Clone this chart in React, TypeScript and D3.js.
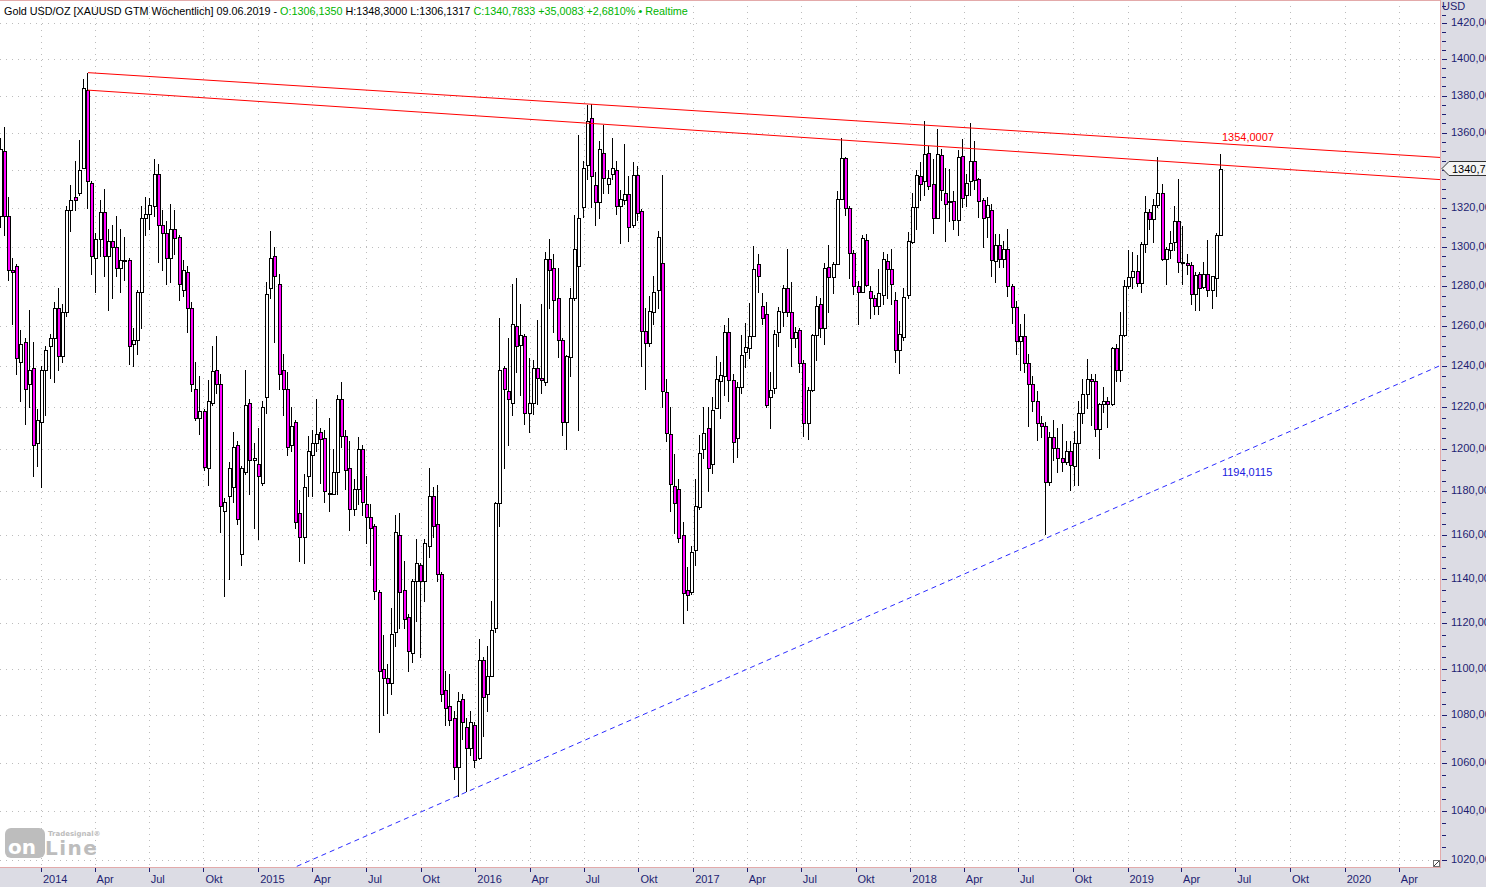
import * as d3 from "d3";

type Bar = [number, number, number, number]; // open, high, low, close

// weekly bars, one per Friday starting 2013-10-25
const bars2013: Bar[] = [
  [1316, 1357, 1310, 1351], [1350, 1363, 1306, 1316], [1316, 1326, 1283, 1288],
  [1288, 1294, 1261, 1287], [1290, 1291, 1236, 1244], [1242, 1258, 1223, 1251],
  [1252, 1254, 1212, 1229], [1231, 1268, 1220, 1238], [1239, 1252, 1187, 1202],
  [1203, 1219, 1192, 1214],
];
const bars2014: Bar[] = [
  [1213, 1240, 1182, 1238], [1238, 1250, 1216, 1248], [1250, 1256, 1234, 1254],
  [1254, 1272, 1232, 1269], [1269, 1279, 1238, 1245], [1245, 1271, 1242, 1267],
  [1267, 1321, 1265, 1319], [1319, 1332, 1308, 1324], [1326, 1345, 1319, 1324],
  [1328, 1356, 1327, 1340], [1341, 1389, 1341, 1384], [1383, 1392.6, 1320, 1334],
  [1333, 1334, 1286, 1295], [1294, 1307, 1277, 1304], [1304, 1324, 1295, 1318],
  [1318, 1330, 1285, 1295], [1295, 1309, 1268, 1303], [1303, 1311, 1274, 1300],
  [1300, 1316, 1285, 1289], [1289, 1309, 1277, 1293], [1293, 1305, 1283, 1292.5],
  [1293, 1294, 1241, 1250], [1251, 1259, 1240, 1253], [1253, 1278, 1246, 1277],
  [1277, 1321, 1259, 1315], [1315, 1326, 1306, 1317], [1317, 1325, 1309, 1321.5],
  [1321, 1346, 1316, 1338], [1338, 1343, 1292, 1311], [1311, 1319, 1288, 1307],
  [1307, 1313, 1281, 1294], [1294, 1322, 1282, 1309], [1309, 1319, 1296, 1304.5],
  [1305, 1306, 1273, 1281], [1278, 1293, 1275, 1288], [1287, 1290, 1257, 1269],
  [1269, 1272, 1228, 1231], [1229, 1242, 1214, 1215], [1215, 1235, 1207, 1218],
  [1218, 1219, 1190, 1191.5], [1191, 1233, 1183, 1223], [1222, 1250, 1221, 1237.5],
  [1238, 1255, 1227, 1231], [1231, 1236, 1161, 1173], [1171, 1177, 1132, 1175],
  [1178, 1194, 1140, 1191], [1182, 1208, 1175, 1201], [1202, 1204, 1165, 1167],
  [1151, 1192, 1146, 1191], [1189, 1238, 1188, 1221], [1222, 1224, 1179, 1195],
  [1195, 1203, 1163, 1195.5],
];
const bars2015: Bar[] = [
  [1193, 1210, 1158, 1187], [1184, 1223, 1183, 1220], [1225, 1282, 1217, 1276],
  [1279, 1308, 1274, 1294], [1295, 1300, 1252, 1285], [1281, 1286, 1229, 1236],
  [1238, 1246, 1216, 1229], [1229, 1237, 1197, 1201], [1202, 1220, 1199, 1211],
  [1213, 1214, 1163, 1166], [1170, 1176, 1148, 1159], [1159, 1188, 1147, 1182],
  [1187, 1206, 1178, 1199], [1197, 1209, 1178, 1203], [1203, 1224, 1199, 1207],
  [1208, 1210, 1184, 1204.5], [1205, 1209, 1175, 1180], [1179, 1215, 1171, 1179.5],
  [1179, 1200, 1179, 1189], [1189, 1226, 1179, 1224], [1224, 1232, 1201, 1206],
  [1206, 1209, 1181, 1190], [1191, 1204, 1162, 1172], [1172, 1186, 1169, 1181],
  [1181, 1205.5, 1174, 1200], [1200, 1202, 1169, 1175], [1174, 1187, 1156, 1168],
  [1168, 1174, 1146, 1163], [1164, 1165, 1131, 1134.5], [1134, 1135, 1073, 1099],
  [1100, 1115, 1080, 1096], [1096, 1102, 1081, 1094], [1094, 1127, 1089, 1115.5],
  [1116, 1169, 1110, 1161], [1160, 1170, 1118, 1134], [1135, 1148, 1118, 1122],
  [1123, 1124, 1099, 1108], [1107, 1140, 1103, 1139], [1139, 1158, 1121, 1147],
  [1146, 1147, 1105, 1139], [1139, 1158, 1130, 1156], [1155, 1191, 1150, 1178],
  [1178, 1182, 1159, 1164], [1165, 1183, 1139, 1142], [1142, 1143, 1086, 1089],
  [1091, 1099, 1076, 1083], [1084, 1098, 1076, 1078], [1079, 1082, 1053, 1058],
  [1058, 1090, 1046, 1086], [1087, 1089, 1070, 1077], [1075, 1079, 1048, 1066],
  [1066, 1082, 1063, 1077],
];
const bars2016: Bar[] = [
  [1076, 1077, 1058, 1061], [1062, 1113, 1061.5, 1104], [1104, 1105, 1071, 1088],
  [1089, 1110, 1082, 1097], [1097, 1130, 1097, 1117], [1118, 1175, 1116, 1174.5],
  [1174.5, 1264, 1164, 1238], [1239, 1240, 1191, 1229], [1228, 1254, 1202, 1224],
  [1222, 1281, 1216, 1261], [1260, 1284, 1237, 1250], [1250.6, 1271, 1226, 1255.5],
  [1255, 1256, 1212, 1217], [1217, 1244, 1208, 1222], [1222, 1243, 1216.5, 1239],
  [1239, 1263, 1221.5, 1234], [1234, 1271, 1227, 1233], [1232, 1297, 1230.5, 1293.6],
  [1293.6, 1304, 1269, 1288], [1289, 1296, 1257, 1273], [1274, 1289, 1244.5, 1253],
  [1253, 1254, 1206.5, 1213], [1213, 1245.5, 1200, 1245], [1244.5, 1279, 1235, 1274],
  [1274, 1316.6, 1273, 1299], [1290, 1358.6, 1209, 1315], [1320.7, 1344.8, 1315.4, 1341],
  [1342.4, 1375, 1335, 1366], [1368, 1375.6, 1320.5, 1337], [1332, 1339, 1311, 1323],
  [1323, 1355.6, 1315, 1351], [1349, 1364, 1328, 1336], [1332.5, 1340, 1328, 1335.7],
  [1338, 1357, 1335, 1341], [1340, 1345, 1317, 1321], [1321, 1329.5, 1302, 1324.7],
  [1324, 1354, 1322, 1327.5], [1327.5, 1337, 1303, 1310], [1311, 1344, 1310, 1337.4],
  [1337.4, 1342.3, 1313.5, 1317.5], [1318.6, 1319.6, 1240, 1257.5], [1257.5, 1269, 1228.7, 1251.5],
  [1251.5, 1275, 1250, 1267.5], [1267, 1285, 1261, 1276.7], [1278, 1308, 1269, 1305],
  [1291.5, 1337.5, 1220, 1228], [1227.3, 1233.5, 1204, 1207.5], [1207, 1220, 1171, 1183.4],
  [1182.5, 1197.7, 1160.8, 1174.8], [1181, 1186, 1156.7, 1158.6], [1159.7, 1166, 1120, 1133.7],
  [1135, 1145.3, 1126, 1132.8], [1134, 1155, 1133, 1152],
];
const bars2017: Bar[] = [
  [1153, 1186, 1146, 1173], [1172.8, 1206.8, 1172, 1198], [1200, 1220, 1195.8, 1207.5],
  [1210, 1220, 1180, 1190.8], [1192.7, 1225, 1188.5, 1218.4], [1219.7, 1244.8, 1219.4, 1233.6],
  [1232.8, 1242, 1215, 1235.8], [1235.3, 1260.3, 1226, 1257], [1257, 1264, 1223, 1233],
  [1233, 1236.3, 1194, 1203.5], [1205, 1232, 1196, 1230], [1230, 1255.5, 1227, 1245.5],
  [1247, 1261.5, 1239.5, 1249.3], [1248.8, 1271.3, 1244, 1255], [1254.7, 1300.3, 1254.7, 1288.5],
  [1291, 1296, 1276.7, 1285], [1269.8, 1276.2, 1260.8, 1264], [1266, 1272, 1220, 1221],
  [1224.9, 1237, 1209.8, 1228.3], [1229.5, 1258, 1226.7, 1256], [1256.7, 1269.5, 1250, 1267.4],
  [1267, 1280.3, 1260, 1279], [1279, 1298.8, 1265, 1267], [1267, 1281.7, 1240, 1254],
  [1254, 1259.5, 1249.5, 1257], [1258, 1259, 1237, 1241.5], [1241.7, 1243, 1206.4, 1212.6],
  [1212.6, 1230, 1204.7, 1228.4], [1228.4, 1256, 1228, 1255.3], [1255.3, 1274.6, 1243, 1270],
  [1270.7, 1274, 1254.5, 1259], [1259, 1291.8, 1251, 1289], [1289.6, 1301, 1267, 1284.5],
  [1284.5, 1292, 1276.6, 1291.3], [1291.3, 1329, 1291, 1324.7], [1324.7, 1356.9, 1324.7, 1346.3],
  [1346.3, 1347, 1316.4, 1320], [1320, 1321, 1283.7, 1296.9], [1296.9, 1298, 1276, 1280],
  [1280, 1282.4, 1261, 1277], [1277, 1306, 1277, 1304.3], [1303.5, 1306.3, 1280, 1280.6],
  [1277.5, 1280, 1264, 1273.7], [1273.7, 1275.4, 1265.7, 1270], [1270, 1288.4, 1265.7, 1276.2],
  [1275.4, 1297, 1270.7, 1293.6], [1292.7, 1296, 1274, 1288.4], [1288.4, 1299, 1270.7, 1280.7],
  [1273, 1277, 1242, 1248], [1248, 1262.3, 1236.7, 1256], [1254.5, 1279, 1252.8, 1274.2],
  [1275.4, 1307.6, 1274, 1302.7],
];
const bars2018: Bar[] = [
  [1302.6, 1327.8, 1302, 1320.4], [1320.4, 1340, 1309, 1337.5], [1336.6, 1344.5, 1324.4, 1332.6],
  [1334.4, 1366, 1327, 1348.7], [1349, 1353, 1330, 1331.5], [1332.7, 1346, 1307, 1314.8],
  [1314.8, 1362, 1314.8, 1348.6], [1348, 1351, 1324, 1329.2], [1327.6, 1341, 1303, 1322],
  [1323.4, 1340.5, 1313, 1323], [1323.4, 1329, 1309, 1313.8], [1313.8, 1350.5, 1306, 1346.8],
  [1347.4, 1356.6, 1320.5, 1325.4], [1326.6, 1338, 1321, 1333], [1334, 1365.2, 1326.6, 1345],
  [1345, 1355.5, 1330, 1334.9], [1335, 1336, 1315.3, 1323.8], [1324.2, 1325, 1300, 1315],
  [1315.3, 1325.7, 1304.8, 1321.7], [1318.8, 1322.3, 1285.2, 1293.2], [1292.8, 1306.5, 1281.7, 1300.9],
  [1300.9, 1306.5, 1289.4, 1293.4], [1293.4, 1303, 1289.4, 1298.8], [1298.8, 1309, 1275, 1280],
  [1280, 1281, 1261.2, 1269.2], [1269.2, 1272.5, 1246, 1252.5], [1252.5, 1260.8, 1237.9, 1255],
  [1255, 1265.8, 1237, 1241.6], [1241.6, 1245.7, 1211, 1231.2], [1231.2, 1235.3, 1218, 1223],
  [1223, 1228, 1204.3, 1212.5], [1212.5, 1215.7, 1205.5, 1211], [1211, 1213, 1160.3, 1184.6],
  [1184.6, 1208, 1183, 1205.8], [1205.8, 1214, 1195, 1200.5], [1200.5, 1210, 1189, 1195.8],
  [1195.8, 1212, 1189.7, 1193.7], [1193.7, 1204, 1193, 1199.2], [1199.2, 1203.6, 1180.8, 1192.2],
  [1192, 1208.5, 1183, 1203], [1203, 1223, 1183, 1217.3], [1217.3, 1233.5, 1212.5, 1226.3],
  [1226.3, 1243.3, 1219.7, 1233.7], [1233.7, 1236.3, 1211.5, 1232.5], [1232.5, 1236.3, 1206, 1209.3],
  [1209.3, 1222, 1195.7, 1221.3], [1221.3, 1229.8, 1217.7, 1223], [1223, 1225, 1210.7, 1221.3],
  [1221.3, 1249.6, 1221, 1248.7], [1248.7, 1251, 1232.7, 1238.3], [1238.3, 1266.6, 1232.7, 1255.3],
  [1255.3, 1283, 1255, 1280],
];
const bars2019: Bar[] = [
  [1280, 1298.5, 1279, 1284.3], [1284.3, 1297.4, 1279, 1287.7], [1287.7, 1295.8, 1280, 1281.4],
  [1281.4, 1302.2, 1276.7, 1301.4], [1301.4, 1326.3, 1297.4, 1318], [1318, 1319.5, 1309, 1314.3],
  [1314.3, 1324.7, 1302.2, 1321.6], [1321.6, 1347, 1320.3, 1327.8], [1327.8, 1332.5, 1293.3, 1293.6],
  [1293.6, 1300, 1280.9, 1298.8], [1298.4, 1307.9, 1294, 1301.7], [1302.2, 1320.9, 1298, 1313.4],
  [1313.4, 1335, 1286.9, 1292], [1292, 1310.7, 1280.9, 1291.7], [1291.7, 1296, 1286, 1290.6],
  [1290.6, 1292, 1270.8, 1275.8], [1275.8, 1287, 1267.7, 1285.5], [1286, 1286.8, 1267.7, 1278.7],
  [1279.2, 1292, 1279, 1286], [1286, 1303.6, 1274.9, 1277.8], [1277.8, 1285, 1269, 1285],
  [1284.2, 1307, 1275, 1305.775], [1306.135, 1348.3, 1306.1317, 1340.7833],
];

const firstFriday = "2013-10-25";
const quarterNames = ["", "Apr", "Jul", "Okt"];
const priceLevels = d3.range(1020, 1421, 20);
const minorLevels = d3.range(1020, 1431, 5);

// trendlines: two anchors each (date, price)
const upperLine: [string, number][] = [["2014-03-21", 1392.6], ["2019-06-07", 1354.0007]];
const lowerLine: [string, number][] = [["2014-03-21", 1383], ["2019-06-07", 1342.6]];
const supportLine: [string, number][] = [["2015-12-04", 1046.3], ["2019-06-07", 1194.0115]];

const W = 1486;
const H = 887;
const PR = 1440; // plot right
const PB = 867; // plot bottom
const FONT = "'Liberation Sans', Arial, sans-serif";
const NAVY = "#1e1e72";
const PANEL = "#dcdce4";

const bars: Bar[] = [...bars2013, ...bars2014, ...bars2015, ...bars2016, ...bars2017, ...bars2018, ...bars2019];
const parse = d3.utcParse("%Y-%m-%d");
const start = parse(firstFriday)!;
const dates = bars.map((_, i) => d3.utcDay.offset(start, 7 * i));

const de = (v: number, n: number) => v.toFixed(n).replace(".", ",");

export default function App() {
  const x = d3
    .scaleUtc()
    .domain([new Date(Date.UTC(2014, 0, 1)), new Date(Date.UTC(2019, 0, 1))])
    .range([41, 1127.5]);
  const y = d3.scaleLog().domain([1017.1, 1433.2]).range([PB, 0]);

  const quarters = d3.utcMonth.every(3)!.range(new Date(Date.UTC(2014, 0, 1)), new Date(Date.UTC(2020, 6, 1)));

  const last = bars[bars.length - 1];
  const prevClose = bars[bars.length - 2][3];
  const chg = last[3] - prevClose;
  const pct = (chg / prevClose) * 100;

  const lineEnds = (pts: [string, number][], x0: number, x1: number) => {
    const ax = x(parse(pts[0][0])!);
    const ay = y(pts[0][1]);
    const bx = x(parse(pts[1][0])!);
    const by = y(pts[1][1]);
    const k = (by - ay) / (bx - ax);
    return { x1: x0, y1: ay + k * (x0 - ax), x2: x1, y2: ay + k * (x1 - ax), at: (xx: number) => ay + k * (xx - ax) };
  };
  const lastX = x(dates[dates.length - 1]);
  const up = lineEnds(upperLine, x(parse(upperLine[0][0])!), PR);
  const lo = lineEnds(lowerLine, x(parse(lowerLine[0][0])!), PR);
  const sup = lineEnds(supportLine, 0, PR);
  const yc = y(last[3]);

  return (
    <div style={{ position: "absolute", left: 0, top: 0, width: W, height: H, background: "#fff", overflow: "hidden" }}>
      <svg width={W} height={H} style={{ display: "block", fontFamily: FONT }}>
        <defs>
          <clipPath id="plot">
            <rect x={0} y={0} width={PR} height={PB} />
          </clipPath>
        </defs>
        <rect x={0} y={0} width={PR} height={PB} fill="#fff" />

        {/* grid */}
        <g stroke="#bcbcbc" strokeDasharray="1,5" shapeRendering="crispEdges">
          {priceLevels.map((p) => (
            <line key={p} x1={0} x2={PR} y1={Math.round(y(p)) + 0.5} y2={Math.round(y(p)) + 0.5} />
          ))}
          {quarters.map((q) => (
            <line key={+q} x1={Math.round(x(q)) + 0.5} x2={Math.round(x(q)) + 0.5} y1={0} y2={PB} />
          ))}
        </g>

        {/* logo */}
        <g fill="#bdbdbd" fontFamily="'DejaVu Sans', sans-serif" fontWeight="bold">
          <rect x={5} y={828} width={40} height={30} rx={6} />
          <text x={8} y={854} fontSize={20} fill="#fff">on</text>
          <text x={45} y={855} fontSize={20} letterSpacing={1.5}>Line</text>
          <text x={48} y={836} fontSize={7}>Tradesignal®</text>
        </g>

        {/* candles */}
        <g shapeRendering="crispEdges">
          {bars.map((b, i) => {
            const [o, h, l, c] = b;
            const cx = Math.round(x(dates[i]));
            const top = Math.round(y(Math.max(o, c)));
            const bot = Math.round(y(Math.min(o, c)));
            const hi = Math.round(y(Math.max(h, o, c)));
            const lw = Math.round(y(Math.min(l, o, c)));
            return (
              <g key={i}>
                <line x1={cx - 0.5} x2={cx - 0.5} y1={hi} y2={lw + 1} stroke="#000" />
                <rect
                  x={cx - 1.5}
                  y={top + 0.5}
                  width={3}
                  height={Math.max(bot - top, 0.01)}
                  fill={c >= o ? "#fff" : "#ff00ff"}
                  stroke="#000"
                />
              </g>
            );
          })}
        </g>

        {/* trendlines */}
        <g clipPath="url(#plot)">
          <line {...{ x1: up.x1, y1: up.y1, x2: up.x2, y2: up.y2 }} stroke="#ff0000" strokeWidth={1} />
          <line {...{ x1: lo.x1, y1: lo.y1, x2: lo.x2, y2: lo.y2 }} stroke="#ff0000" strokeWidth={1} />
          <line {...{ x1: sup.x1, y1: sup.y1, x2: sup.x2, y2: sup.y2 }} stroke="#2b2bff" strokeWidth={1} strokeDasharray="5,4" />
        </g>
        <text x={lastX + 1} y={up.at(lastX) - 3} fontSize={11} fill="#ff0000">{de(upperLine[1][1], 4)}</text>
        <text x={lastX + 1} y={sup.at(lastX) + 14} fontSize={11} fill="#2020e0">{de(supportLine[1][1], 4)}</text>

        {/* header */}
        <text x={4} y={15} fontSize={10.8} style={{ whiteSpace: "pre" }}>
          <tspan fill="#000">Gold USD/OZ [XAUUSD GTM Wöchentlich] 09.06.2019 - </tspan>
          <tspan fill="#00b400">O:{de(last[0], 4)}</tspan>
          <tspan fill="#000">{` H:${de(last[1], 4)} L:${de(last[2], 4)} `}</tspan>
          <tspan fill="#00b400">{`C:${de(last[3], 4)} +${de(chg, 4)} +${de(pct, 4)}% • Realtime`}</tspan>
        </text>

        {/* panels */}
        <rect x={PR + 1} y={0} width={W - PR - 1} height={H} fill={PANEL} />
        <rect x={0} y={PB + 1} width={W} height={H - PB - 1} fill={PANEL} />
        <g stroke="#e3aaaa" shapeRendering="crispEdges">
          <line x1={0} x2={PR} y1={0.5} y2={0.5} />
          <line x1={PR + 0.5} x2={PR + 0.5} y1={0} y2={PB + 1} />
          <line x1={0} x2={PR + 1} y1={PB + 0.5} y2={PB + 0.5} />
        </g>
        <g>
          <rect x={1433.5} y={860.5} width={6} height={6} fill="#fff" stroke="#707070" />
          <line x1={1434} y1={866} x2={1439} y2={861} stroke="#404040" />
        </g>

        {/* right axis */}
        <g stroke={NAVY} shapeRendering="crispEdges">
          {minorLevels.map((p) => (
            <line key={p} x1={PR + 2} x2={p % 20 === 0 ? PR + 7 : PR + 6} y1={Math.round(y(p)) + 0.5} y2={Math.round(y(p)) + 0.5} />
          ))}
        </g>
        <g fontSize={11} fill={NAVY}>
          {priceLevels.map((p) => (
            <text key={p} x={1451} y={y(p) + 3}>{de(p, 2)}</text>
          ))}
          <text x={1442} y={10}>USD</text>
        </g>
        <path
          d={`M${PR + 2},${yc} L${PR + 9},${yc - 7} L${W + 2},${yc - 7} L${W + 2},${yc + 7} L${PR + 9},${yc + 7} Z`}
          fill="#f4f4f4"
          stroke="#333"
        />
        <text x={1452} y={yc + 4} fontSize={11} fill="#000">{de(last[3], 2)}</text>

        {/* bottom axis */}
        <g stroke={NAVY} shapeRendering="crispEdges">
          {quarters.map((q) => (
            <line key={+q} x1={Math.round(x(q)) + 0.5} x2={Math.round(x(q)) + 0.5} y1={PB + 1} y2={PB + 5} />
          ))}
        </g>
        <g fontSize={11} fill={NAVY}>
          {quarters.map((q) => {
            const m = q.getUTCMonth() / 3;
            return (
              <text key={+q} x={x(q) + 2} y={883}>
                {m === 0 ? String(q.getUTCFullYear()) : quarterNames[m]}
              </text>
            );
          })}
        </g>
      </svg>
    </div>
  );
}
